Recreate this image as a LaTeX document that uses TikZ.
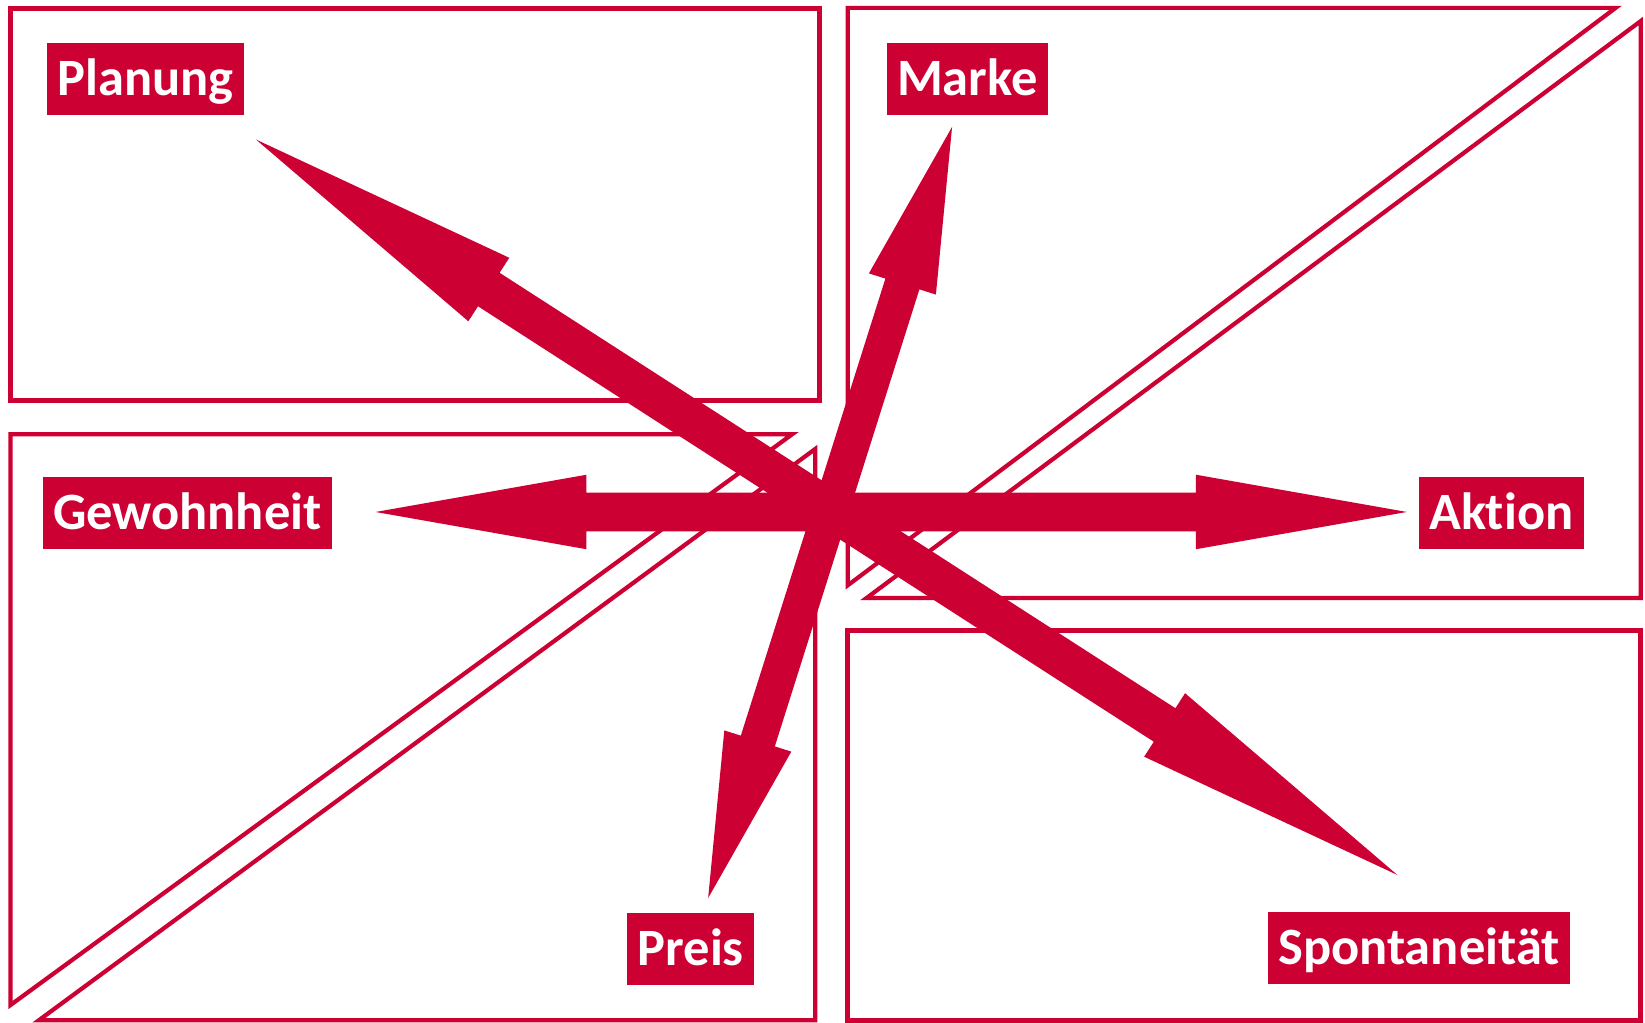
\documentclass[tikz,border=0pt]{standalone}
\usepackage{fontspec}
\newfontfamily\lblfont[Ligatures=NoCommon]{Carlito}
\usetikzlibrary{calc}
\definecolor{crim}{RGB}{204,0,51}
% double-headed block arrow: tips #1,#2; head length #3; head half width #4; shaft half width #5
\newcommand\dblarrow[5]{%
  \coordinate (h1) at ($(#1)!#3!(#2)$);
  \coordinate (h2) at ($(#2)!#3!(#1)$);
  \fill[crim] (#1) -- ($(h1)!#4!90:(#2)$) -- ($(h1)!#5!90:(#2)$)
    -- ($(h2)!#5!-90:(#1)$) -- ($(h2)!#4!-90:(#1)$) -- (#2)
    -- ($(h2)!#4!90:(#1)$) -- ($(h2)!#5!90:(#1)$)
    -- ($(h1)!#5!-90:(#2)$) -- ($(h1)!#4!-90:(#2)$) -- cycle;
}
\tikzset{
  lbl/.style={fill=crim, text=white, font=\lblfont\bfseries\fontsize{25pt}{30pt}\selectfont,
    inner xsep=5pt, inner ysep=0pt, minimum height=34.5pt, text height=16pt, text depth=0pt},
  frame/.style={draw=crim, line width=2.5pt},
  tri/.style={draw=crim, line width=2pt, line join=miter},
}
\begin{document}
\begin{tikzpicture}[x=0.5pt,y=-0.5pt]
\useasboundingbox (0,0) rectangle (1568,975);
% frames
\draw[frame] (10,8) rectangle (781,382);
\draw[frame] (808,601) rectangle (1564,972.5);
\draw[tri] (10,414) -- (755,414) -- (10,958) -- cycle;
\draw[tri] (777,428) -- (777,972.5) -- (37,972.5) -- cycle;
\draw[tri] (808,7.5) -- (1540,7.5) -- (808,558) -- cycle;
\draw[tri] (1564,20) -- (1564,570) -- (826,570) -- cycle;
% arrow tips
\coordinate (tPlan) at (244,133);
\coordinate (tSpon) at (1332,834);
\coordinate (tMark) at (907.5,121);
\coordinate (tPreis) at (675,856);
\coordinate (tGew) at (358,488);
\coordinate (tAkt) at (1341,488);
% arrows
\dblarrow{tGew}{tAkt}{100.5pt}{17.75pt}{9.25pt}
\dblarrow{tPlan}{tSpon}{132pt}{18pt}{9.5pt}
\dblarrow{tMark}{tPreis}{78.5pt}{16.75pt}{8.5pt}
% labels
\node[lbl] (plan) at (138.5,75.5) {Planung};
\node[lbl] (mark) at (922,75.5) {Marke};
\node[lbl] (gew) at (178.5,489) {Gewohnheit};
\node[lbl] (akt) at (1431,489) {Aktion};
\node[lbl] (preis) at (658.5,904.5) {Preis};
\node[lbl] (spon) at (1352.5,903.5) {Spontaneität};
\end{tikzpicture}
\end{document}
